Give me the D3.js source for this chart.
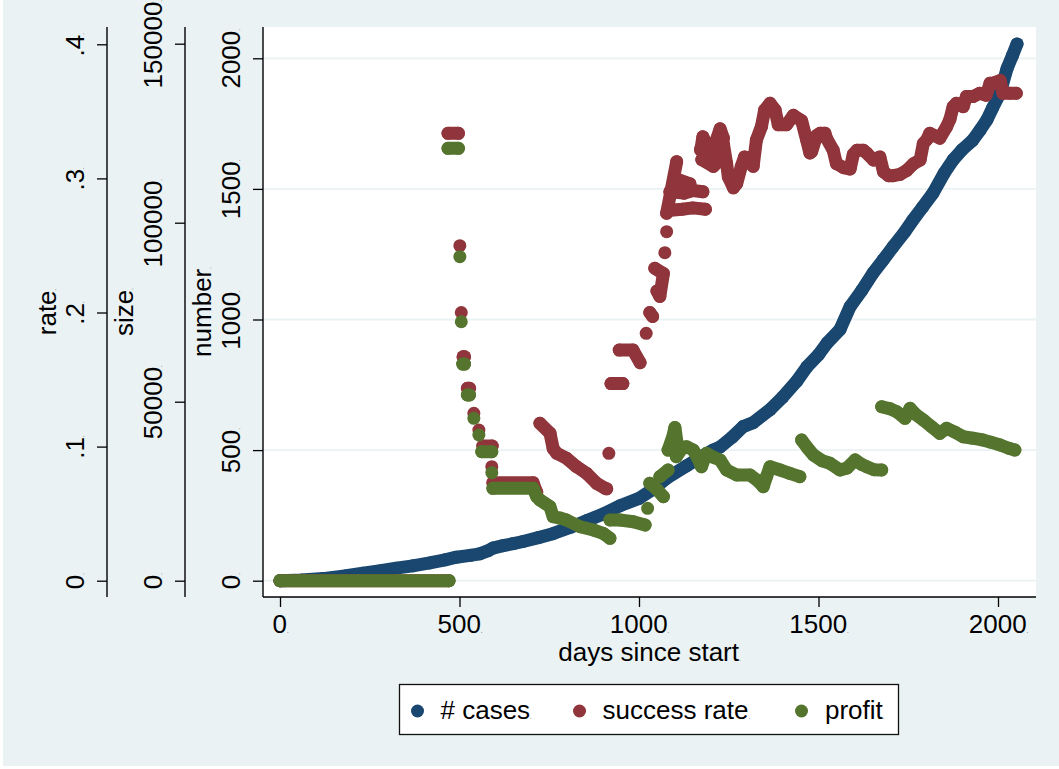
<!DOCTYPE html>
<html>
<head>
<meta charset="utf-8">
<script src="https://cdnjs.cloudflare.com/ajax/libs/d3/7.8.5/d3.min.js"></script>
<style>
  body { margin: 0; background: #fff; }
  svg { display: block; }
  text { font-family: "Liberation Sans", Arial, sans-serif; fill: #000; }
</style>
</head>
<body>
<div id="my_chart"></div>
<script>
// ---- data ----
// each series is a list of runs; a run is a list of [day, value]
const casesRuns = [
  [[0,0],[60,3],[120,8],[180,18],[231,29],[280,38],[324,48],[370,57],[417,68],[460,80],[491,90],
   [530,97],[556,103],[580,115],[593,125],[621,134],[650,142],[677,150],[720,165],[760,180],
   [810,205],[855,230],[900,255],[947,287],[1000,315],[1039,350],[1080,395],[1133,440],[1180,480],
   [1206,500],[1226,512],[1260,550],[1290,590],[1318,605],[1365,655],[1401,704],[1440,765],
   [1468,819],[1500,865],[1524,910],[1560,962],[1588,1049],[1620,1110],[1652,1178],[1680,1228],
   [1708,1279],[1740,1335],[1763,1381],[1790,1430],[1819,1484],[1850,1560],[1875,1611],
   [1900,1650],[1930,1687],[1950,1725],[1969,1764],[1985,1810],[2006,1867],[2025,1960],
   [2040,2010],[2053,2055]]
];

const rateRuns = [
  [[0,0],[470,0]],
  [[468,.3336],[497,.3336]],
  [[501,.2498]],
  [[505,.2]],
  [[510,.167],[514,.167]],
  [[522,.1435],[528,.1435]],
  [[540,.1248]],
  [[554,.1124]],
  [[565,.1004],[591,.1004]],
  [[590,.085]],
  [[593,.0731],[705,.0731],[715,.066]],
  [[724,.1174],[752,.110],[761,.0985],[771,.095],[798,.0913],[826,.085],[854,.080],[882,.0726],[905,.069],[910,.0685]],
  [[916,.095]],
  [[922,.147],[955,.147]],
  [[945,.172],[983,.172],[1003,.1626]],
  [[1020,.1845]],
  [[1030,.2],[1038,.197]],
  [[1044,.233],[1068,.229],[1058,.212],[1050,.216]],
  [[1072,.2446]],
  [[1077,.2603]],
  [[1077,.274],[1105,.3125]],
  [[1080,.276],[1120,.277],[1150,.278],[1185,.277]],
  [[1086,.29],[1125,.289],[1150,.291],[1178,.29]],
  [[1100,.30],[1142,.296]],
  [[1172,.321],[1178,.331],[1190,.324],[1212,.326],[1226,.337],[1235,.33]],
  [[1172,.322],[1200,.318],[1230,.322]],
  [[1175,.314],[1207,.309],[1230,.315],[1244,.311]],
  [[1235,.326],[1244,.311],[1249,.301],[1263,.293],[1272,.296],[1285,.309],[1294,.316],[1312,.314],
   [1318,.309],[1327,.3286],[1341,.3386],[1350,.351],[1365,.356],[1379,.351],[1388,.340],[1411,.340],
   [1430,.347],[1453,.343],[1467,.3286],[1476,.319],[1481,.320],[1495,.332],[1504,.3336],[1518,.3336],
   [1522,.33],[1541,.321],[1550,.311],[1570,.308],[1588,.307],[1597,.318],[1607,.321],[1625,.321],
   [1634,.319],[1653,.3137],[1671,.316],[1681,.305],[1695,.302],[1708,.302],[1727,.303],[1746,.306],
   [1765,.311],[1783,.3137],[1792,.326],[1802,.329],[1810,.3336],[1838,.33],[1857,.3386],[1866,.344],
   [1875,.3535],[1884,.356],[1903,.3535],[1912,.361],[1930,.361],[1949,.3635],[1967,.362],[1978,.371],
   [1986,.371],[2006,.373],[2014,.3635],[2033,.3635],[2051,.3635]]
];

const profitRuns = [
  [[0,0],[471,0]],
  [[468,120770],[497,120770]],
  [[501,90500]],
  [[505,72340]],
  [[509,60500],[514,60500]],
  [[522,51870],[528,51870]],
  [[540,45360]],
  [[554,40700]],
  [[562,36030],[590,36030]],
  [[590,30170]],
  [[593,25800],[705,25800],[715,23500],[724,22540],[740,21500],[752,20670],[761,17880],[780,17500],
   [798,16950],[836,15080],[873,14160],[900,13240],[919,11840]],
  [[919,16950],[947,16950],[984,16480],[1017,15560]],
  [[1024,20220]],
  [[1030,27200],[1050,25500],[1068,23460]],
  [[1058,29050],[1081,30920]],
  [[1081,36500],[1095,40500],[1100,42800],[1106,38500],[1104,34630],[1120,37000],[1132,37430],
   [1151,36500],[1165,34000],[1174,31840],[1188,35580],[1207,34500],[1226,33710],[1244,30920],
   [1272,29520],[1309,29520],[1330,28000],[1346,26250],[1355,29000],[1365,31840],[1393,30920],
   [1420,30000],[1448,29050]],
  [[1453,39300],[1470,37000],[1486,35110],[1510,33500],[1532,32790],[1560,30920],[1580,31500],
   [1602,33710],[1620,32500],[1634,31840],[1655,31000],[1676,30920]],
  [[1676,48600],[1700,48000],[1718,47200],[1741,45360],[1755,48150],[1770,46500],[1792,44880],
   [1815,43000],[1838,41170],[1857,42560],[1880,41500],[1903,40220],[1930,39800],[1958,39300],
   [1980,38700],[2006,37900],[2030,37000],[2047,36500]]
];

const xTicks = [0, 500, 1000, 1500, 2000];
const numberTicks = [0, 500, 1000, 1500, 2000];
const rateTicks = [0, .1, .2, .3, .4];
const rateLabels = ['0', '.1', '.2', '.3', '.4'];
const sizeTicks = [0, 50000, 100000, 150000];

const seriesNames = ['# cases', 'success rate', 'profit'];
const seriesColors = ['#1a476f', '#90353b', '#55752f'];

// ---- layout ----
const width = 1059;
const height = 769;
const plot = {left: 263, right: 1036, top: 27, bottom: 597};
const fontSize = 26;
const markerR = 6.5;

const xScale = d3.scaleLinear().domain([0, 2000]).range([280, 998]);
const numberScale = d3.scaleLinear().domain([0, 2000]).range([580.7, 58.3]);
const rateScale = d3.scaleLinear().domain([0, .4]).range([580.7, 44.3]);
const sizeScale = d3.scaleLinear().domain([0, 150000]).range([580.7, 43.7]);

const svg = d3.select('#my_chart')
  .append('svg')
    .attr('width', width)
    .attr('height', height);

svg.append('rect')
  .attr('x', 3).attr('y', 0)
  .attr('width', width - 3).attr('height', 766)
  .attr('fill', '#eaf2f3');

svg.append('rect')
  .attr('x', plot.left).attr('y', plot.top)
  .attr('width', plot.right - plot.left).attr('height', plot.bottom - plot.top)
  .attr('fill', '#fff');

// gridlines from the number axis
svg.append('g').selectAll('line')
  .data(numberTicks)
  .join('line')
    .attr('x1', plot.left).attr('x2', plot.right)
    .attr('y1', d => numberScale(d)).attr('y2', d => numberScale(d))
    .attr('stroke', '#eaf2f3')
    .attr('stroke-width', 1.8);

// tiny trailing dot Stata leaves after each text
function addDot(sel) {
  sel.append('tspan').style('font-size', '6px').text('.');
}

// left axes
const leftAxes = [
  {x: 107, scale: rateScale, ticks: rateTicks, fmt: (d, i) => rateLabels[i], title: 'rate', titleX: 56},
  {x: 185, scale: sizeScale, ticks: sizeTicks, fmt: d => String(d), title: 'size', titleX: 133},
  {x: 263, scale: numberScale, ticks: numberTicks, fmt: d => String(d), title: 'number', titleX: 211}
];

leftAxes.forEach(a => {
  const g = svg.append('g').attr('transform', `translate(${a.x},0)`);
  g.call(d3.axisLeft(a.scale).tickValues(a.ticks).tickSize(10).tickSizeOuter(0).tickFormat(a.fmt))
    .call(g => g.select('.domain').remove())
    .call(g => g.selectAll('.tick line').attr('stroke', '#000').attr('stroke-width', 1.3))
    .call(g => g.selectAll('.tick text')
      .attr('x', null).attr('dy', null)
      .attr('text-anchor', 'middle')
      .attr('transform', 'translate(-23.5,0) rotate(-90)')
      .style('font-size', fontSize + 'px')
      .attr('fill', '#000')
      .each(function() { addDot(d3.select(this)); }));
  g.attr('font-family', null);

  svg.append('line')
    .attr('x1', a.x).attr('x2', a.x)
    .attr('y1', plot.top).attr('y2', plot.bottom)
    .attr('stroke', '#000').attr('stroke-width', 1.4);

  svg.append('text')
    .attr('transform', `translate(${a.titleX},${(plot.top + plot.bottom) / 2}) rotate(-90)`)
    .attr('text-anchor', 'middle')
    .style('font-size', fontSize + 'px')
    .text(a.title)
    .call(addDot);
});

// x axis
const xAxis = svg.append('g').attr('transform', `translate(0,${plot.bottom})`);
xAxis.call(d3.axisBottom(xScale).tickValues(xTicks).tickSize(10).tickSizeOuter(0).tickFormat(d => String(d)))
  .attr('font-family', null)
  .call(g => g.select('.domain').remove())
  .call(g => g.selectAll('.tick line').attr('stroke', '#000').attr('stroke-width', 1.3))
  .call(g => g.selectAll('.tick text')
    .attr('y', 36).attr('dy', null)
    .style('font-size', fontSize + 'px')
    .attr('fill', '#000')
    .each(function() { addDot(d3.select(this)); }));

svg.append('line')
  .attr('x1', plot.left).attr('x2', plot.right)
  .attr('y1', plot.bottom).attr('y2', plot.bottom)
  .attr('stroke', '#000').attr('stroke-width', 1.4);

svg.append('text')
  .attr('x', (plot.left + plot.right) / 2)
  .attr('y', 661)
  .attr('text-anchor', 'middle')
  .style('font-size', fontSize + 'px')
  .text('days since start')
  .call(addDot);

// markers: dense scatter drawn as fat round strokes plus dots
const series = [
  {runs: casesRuns, scale: numberScale, color: seriesColors[0]},
  {runs: rateRuns, scale: rateScale, color: seriesColors[1]},
  {runs: profitRuns, scale: sizeScale, color: seriesColors[2]}
];

series.forEach(s => {
  const line = d3.line().x(d => xScale(d[0])).y(d => s.scale(d[1]));
  const g = svg.append('g');
  g.selectAll('path')
    .data(s.runs.filter(r => r.length > 1))
    .join('path')
      .attr('d', line)
      .attr('fill', 'none')
      .attr('stroke', s.color)
      .attr('stroke-width', markerR * 2)
      .attr('stroke-linecap', 'round')
      .attr('stroke-linejoin', 'round');
  g.selectAll('circle')
    .data(s.runs.flat())
    .join('circle')
      .attr('cx', d => xScale(d[0]))
      .attr('cy', d => s.scale(d[1]))
      .attr('r', markerR)
      .attr('fill', s.color);
});

// legend
svg.append('rect')
  .attr('x', 399.5).attr('y', 684.5)
  .attr('width', 499).attr('height', 50)
  .attr('fill', '#fff')
  .attr('stroke', '#111').attr('stroke-width', 1.3);

const legendX = [417.5, 579.5, 801.5];
const legend = svg.append('g').selectAll('g')
  .data(seriesNames)
  .join('g')
    .attr('transform', (d, i) => `translate(${legendX[i]},711)`);

legend.append('circle')
  .attr('r', markerR)
  .attr('fill', (d, i) => seriesColors[i]);

legend.append('text')
  .attr('x', (d, i) => i === 2 ? 23.5 : 23)
  .attr('y', 7.5)
  .style('font-size', fontSize + 'px')
  .text(d => d)
  .each(function() { addDot(d3.select(this)); });
</script>
</body>
</html>
